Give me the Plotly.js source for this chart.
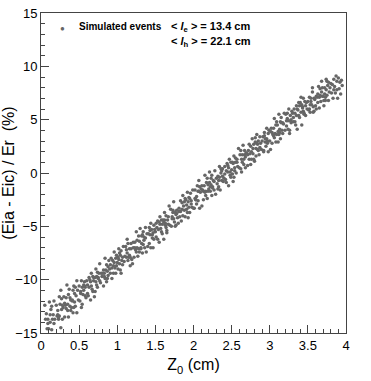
<!DOCTYPE html>
<html>
<head>
<meta charset="utf-8">
<script src="https://cdn.plot.ly/plotly-3.0.1.min.js"></script>
<style>
  html, body { margin: 0; padding: 0; background: #fff; }
  #plot { width: 371px; height: 381px; }
</style>
</head>
<body>
<div id="plot"></div>
<script>
// simulated events, read off the picture bin by bin (0.1 cm bins)
const z0 = [
  0.05,0.06,0.07,0.08,0.09,0.09,
  0.10,0.11,0.12,0.12,0.13,0.14,0.14,0.15,0.16,0.17,0.17,0.18,
  0.21,0.22,0.23,0.24,0.24,0.25,0.26,0.27,0.28,0.28,0.29,0.20,0.22,0.26,0.23,0.27,
  0.30,0.31,0.31,0.32,0.33,0.33,0.34,0.35,0.35,0.36,0.36,0.37,0.38,0.38,0.39,0.39,
  0.40,0.41,0.42,0.42,0.43,0.44,0.44,0.45,0.46,0.47,0.47,0.48,0.49,0.41,0.45,0.43,
  0.51,0.52,0.53,0.54,0.54,0.55,0.56,0.57,0.58,0.58,0.59,0.50,0.52,0.56,0.53,0.57,
  0.60,0.61,0.61,0.62,0.63,0.63,0.64,0.65,0.65,0.66,0.66,0.67,0.68,0.68,0.69,0.69,
  0.70,0.71,0.72,0.72,0.73,0.74,0.74,0.75,0.76,0.77,0.77,0.78,0.79,0.71,0.75,0.73,
  0.81,0.82,0.83,0.84,0.84,0.85,0.86,0.87,0.88,0.88,0.89,0.80,0.82,0.86,0.83,0.87,
  0.90,0.91,0.91,0.92,0.93,0.93,0.94,0.95,0.95,0.96,0.96,0.97,0.98,0.98,0.99,0.99,
  1.00,1.01,1.02,1.02,1.03,1.04,1.04,1.05,1.06,1.07,1.07,1.08,1.09,1.01,1.05,1.03,
  1.11,1.12,1.13,1.14,1.14,1.15,1.16,1.17,1.18,1.18,1.19,1.10,1.12,1.16,1.13,1.17,
  1.20,1.21,1.21,1.22,1.23,1.23,1.24,1.25,1.25,1.26,1.26,1.27,1.28,1.28,1.29,1.29,
  1.30,1.31,1.32,1.32,1.33,1.34,1.34,1.35,1.36,1.37,1.37,1.38,1.39,1.31,1.35,1.33,
  1.41,1.42,1.43,1.44,1.44,1.45,1.46,1.47,1.48,1.48,1.49,1.40,1.42,1.46,1.43,1.47,
  1.50,1.51,1.51,1.52,1.53,1.53,1.54,1.55,1.55,1.56,1.56,1.57,1.58,1.58,1.59,1.59,
  1.60,1.61,1.62,1.62,1.63,1.64,1.64,1.65,1.66,1.67,1.67,1.68,1.69,1.61,1.65,1.63,
  1.71,1.72,1.73,1.74,1.74,1.75,1.76,1.77,1.78,1.78,1.79,1.70,1.72,1.76,1.73,1.77,
  1.80,1.81,1.81,1.82,1.83,1.83,1.84,1.85,1.85,1.86,1.86,1.87,1.88,1.88,1.89,1.89,
  1.90,1.91,1.92,1.92,1.93,1.94,1.94,1.95,1.96,1.97,1.97,1.98,1.99,1.91,1.95,1.93,
  2.01,2.02,2.03,2.04,2.04,2.05,2.06,2.07,2.08,2.08,2.09,2.00,2.02,2.06,2.03,2.07,
  2.10,2.11,2.11,2.12,2.13,2.13,2.14,2.15,2.15,2.16,2.16,2.17,2.18,2.18,2.19,2.19,
  2.20,2.21,2.22,2.22,2.23,2.24,2.24,2.25,2.26,2.27,2.27,2.28,2.29,2.21,2.25,2.23,
  2.31,2.32,2.33,2.34,2.34,2.35,2.36,2.37,2.38,2.38,2.39,2.30,2.32,2.36,2.33,2.37,
  2.40,2.41,2.41,2.42,2.43,2.43,2.44,2.45,2.45,2.46,2.46,2.47,2.48,2.48,2.49,2.49,
  2.50,2.51,2.52,2.52,2.53,2.54,2.54,2.55,2.56,2.57,2.57,2.58,2.59,2.51,2.55,2.53,
  2.61,2.62,2.63,2.64,2.64,2.65,2.66,2.67,2.68,2.68,2.69,2.60,2.62,2.66,2.63,2.67,
  2.70,2.71,2.71,2.72,2.73,2.73,2.74,2.75,2.75,2.76,2.76,2.77,2.78,2.78,2.79,2.79,
  2.80,2.81,2.82,2.82,2.83,2.84,2.84,2.85,2.86,2.87,2.87,2.88,2.89,2.81,2.85,2.83,
  2.91,2.92,2.93,2.94,2.94,2.95,2.96,2.97,2.98,2.98,2.99,2.90,2.92,2.96,2.93,2.97,
  3.00,3.01,3.01,3.02,3.03,3.03,3.04,3.05,3.05,3.06,3.06,3.07,3.08,3.08,3.09,3.09,
  3.10,3.11,3.12,3.12,3.13,3.14,3.14,3.15,3.16,3.17,3.17,3.18,3.19,3.11,3.15,3.13,
  3.21,3.22,3.23,3.24,3.24,3.25,3.26,3.27,3.28,3.28,3.29,3.20,3.22,3.26,3.23,3.27,
  3.30,3.31,3.31,3.32,3.33,3.33,3.34,3.35,3.35,3.36,3.36,3.37,3.38,3.38,3.39,3.39,
  3.40,3.41,3.42,3.42,3.43,3.44,3.44,3.45,3.46,3.47,3.47,3.48,3.49,3.41,3.45,3.43,
  3.51,3.52,3.53,3.54,3.54,3.55,3.56,3.57,3.58,3.58,3.59,3.50,3.52,3.56,3.53,3.57,
  3.60,3.61,3.61,3.62,3.63,3.63,3.64,3.65,3.65,3.66,3.66,3.67,3.68,3.68,3.69,3.69,
  3.70,3.71,3.72,3.72,3.73,3.74,3.74,3.75,3.76,3.77,3.77,3.78,3.79,3.71,3.75,3.73,
  3.81,3.82,3.83,3.84,3.84,3.85,3.86,3.87,3.88,3.88,3.89,3.80,
  3.90,3.91,3.92,3.93,3.94,3.95
];

const dE = [
  -12.4,-13.7,-13.2,-14.6,-14.1,-13.7,
  -14.6,-12.1,-13.3,-14.0,-12.8,-14.7,-12.5,-13.7,-13.3,-14.1,-12.0,-13.7,
  -13.4,-12.9,-13.7,-11.6,-13.4,-12.3,-14.5,-11.8,-12.4,-13.7,-12.6,-12.4,-13.3,-11.0,-13.6,-12.8,
  -11.6,-12.2,-13.5,-12.4,-11.7,-12.7,-10.5,-12.9,-12.3,-11.4,-13.5,-10.9,-12.5,-11.7,-12.9,-11.9,
  -12.6,-12.0,-11.0,-13.1,-10.6,-12.1,-11.3,-12.5,-11.5,-10.1,-13.1,-11.0,-11.9,-11.9,-10.7,-12.6,
  -12.0,-11.1,-10.1,-12.3,-10.7,-11.4,-11.0,-10.2,-11.5,-10.7,-11.7,-10.6,-11.3,-10.5,-12.6,-10.6,
  -10.1,-11.3,-10.5,-11.5,-9.8,-10.7,-10.0,-11.9,-10.2,-9.4,-10.6,-10.9,-9.7,-11.1,-10.1,-9.8,
  -11.6,-9.8,-9.0,-10.2,-10.5,-9.3,-10.7,-9.8,-9.4,-10.1,-8.5,-10.3,-9.4,-11.1,-9.9,-9.7,
  -9.4,-9.1,-9.7,-8.0,-9.9,-9.1,-10.2,-9.2,-8.8,-9.6,-8.2,-9.7,-10.6,-8.6,-9.4,-9.9,
  -9.0,-8.6,-9.4,-8.0,-8.9,-9.9,-8.2,-8.7,-9.4,-7.4,-8.4,-8.9,-8.0,-9.4,-7.7,-8.7,
  -8.4,-9.0,-7.1,-8.1,-8.5,-7.7,-9.1,-7.3,-8.2,-7.9,-8.6,-6.9,-8.3,-7.9,-9.4,-7.5,
  -6.9,-7.9,-7.5,-8.2,-6.6,-7.9,-7.1,-8.7,-6.6,-7.1,-8.1,-7.8,-7.2,-7.7,-6.2,-7.9,
  -8.5,-6.5,-7.0,-7.9,-7.0,-6.5,-7.2,-5.5,-7.4,-7.0,-6.3,-7.8,-5.9,-7.1,-6.4,-7.4,
  -5.2,-7.1,-6.6,-5.9,-7.5,-5.5,-6.7,-6.0,-7.0,-6.1,-5.1,-7.4,-5.7,-7.0,-6.3,-5.8,
  -5.7,-6.6,-5.8,-4.7,-7.0,-5.3,-6.1,-5.6,-4.9,-6.2,-5.3,-6.9,-5.1,-5.8,-5.4,-7.0,
  -5.5,-4.7,-6.0,-5.1,-6.2,-4.5,-5.3,-4.6,-6.5,-4.8,-4.1,-5.2,-5.5,-4.4,-5.7,-4.8,
  -4.4,-6.2,-4.4,-3.7,-4.9,-5.1,-4.0,-5.4,-4.4,-4.1,-4.8,-3.1,-4.9,-4.6,-5.6,-4.7,
  -5.0,-4.1,-3.7,-4.3,-2.7,-4.6,-3.7,-4.9,-3.8,-3.5,-4.2,-3.4,-4.3,-5.0,-3.5,-3.9,
  -4.7,-3.6,-3.3,-4.1,-2.6,-3.6,-4.5,-2.8,-3.4,-4.0,-2.1,-3.1,-3.5,-2.7,-4.1,-2.4,
  -2.5,-3.0,-3.7,-1.8,-2.7,-3.2,-2.3,-3.7,-1.9,-2.9,-2.6,-3.2,-1.6,-3.4,-2.4,-4.2,
  -3.3,-1.6,-2.5,-2.2,-2.9,-1.2,-2.6,-1.7,-3.3,-1.3,-1.8,-3.3,-2.4,-1.7,-2.5,-0.7,
  -1.5,-3.1,-1.2,-1.6,-2.5,-1.7,-1.2,-1.8,-0.2,-2.1,-1.7,-0.9,-2.4,-0.5,-1.7,-1.1,
  -1.5,0.1,-1.7,-1.3,-0.5,-2.1,-0.2,-1.3,-0.7,-1.6,-0.8,0.2,-2.0,-0.9,-1.4,-1.1,
  -1.0,-0.3,-1.3,-0.4,0.6,-1.6,0.0,-0.7,-0.3,0.4,-0.8,-0.5,-1.5,0.4,-0.7,0.2,
  -0.5,-0.1,0.6,-0.6,0.2,-0.9,0.9,0.1,0.7,-1.2,0.5,1.3,0.1,-0.2,1.0,-0.4,
  0.3,1.0,-0.8,0.9,1.6,0.5,0.2,1.4,0.0,1.0,1.3,0.6,2.3,-0.1,1.0,-0.4,
  1.7,0.4,1.3,1.7,1.0,2.6,0.8,1.7,0.5,1.5,1.9,0.5,2.1,1.3,0.1,2.1,
  1.8,0.7,1.7,2.1,1.3,2.7,1.8,0.8,2.5,2.0,1.3,3.2,2.3,1.8,2.7,1.3,
  1.1,2.9,2.3,1.6,3.6,2.7,2.2,3.0,1.7,3.4,2.4,2.8,2.2,3.3,2.1,2.8,
  3.4,2.0,3.8,2.9,3.2,2.5,4.2,2.8,3.7,2.0,4.0,3.0,2.1,3.2,3.5,3.0,
  3.0,3.9,2.2,4.2,3.8,2.8,3.6,4.2,3.5,5.1,3.3,3.7,4.5,2.9,4.8,3.6,
  4.5,3.9,5.5,3.6,4.1,4.8,3.2,5.2,4.0,4.7,3.7,4.6,5.6,2.9,4.7,3.8,
  5.5,4.4,5.1,4.1,4.9,6.0,3.7,5.4,4.7,5.0,5.8,4.0,4.9,4.0,5.6,4.9,
  5.6,4.8,5.2,6.0,4.8,5.6,4.5,6.3,5.4,6.0,4.1,5.9,6.6,5.4,5.2,6.3,
  6.6,5.7,6.4,4.5,6.2,7.0,5.8,5.6,6.7,5.4,6.3,6.6,6.0,7.1,5.5,6.1,
  5.9,7.1,5.7,6.7,7.0,6.4,8.0,6.2,7.0,5.8,6.9,6.7,6.0,7.6,6.4,5.7,
  6.3,7.2,6.0,7.1,7.4,6.6,8.1,7.1,6.1,7.9,7.3,6.7,8.6,7.6,7.2,8.0,
  7.2,6.3,8.0,7.4,6.8,8.8,7.8,7.3,8.2,6.8,8.5,7.6,8.0,6.8,8.6,7.1,
  7.5,8.3,7.0,8.8,7.8,8.1,7.5,9.1,7.8,8.6,7.0,8.4,
  8.9,7.9,8.5,7.4,8.7,8.2
];

const xTicks = { first: 0, step: 0.5, minor: 0.1 };
const yTicks = { first: -15, step: 5, minor: 1 };

const axisCol = '#444';
const dotCol = '#666666';

const trace = {
  type: 'scatter',
  mode: 'markers',
  x: z0,
  y: dE,
  marker: { color: dotCol, size: 3.5 },
  hoverinfo: 'skip',
  showlegend: false
};

function px2x(px) { return (px - 41) / 305; }
function py2y(py) { return (333 - py) / 320; }

const layout = {
  width: 371,
  height: 381,
  margin: { l: 41, r: 25, t: 13, b: 48 },
  paper_bgcolor: '#fff',
  plot_bgcolor: '#fff',
  font: { family: '"Liberation Sans", Arial, sans-serif', size: 13, color: '#000' },
  showlegend: false,
  xaxis: {
    range: [0, 4],
    tick0: xTicks.first,
    dtick: xTicks.step,
    ticks: 'inside',
    ticklen: 8,
    tickcolor: axisCol,
    showline: true,
    linecolor: axisCol,
    linewidth: 1,
    mirror: true,
    showgrid: false,
    zeroline: false,
    minor: { dtick: xTicks.minor, ticks: 'inside', ticklen: 4, tickcolor: axisCol, showgrid: false },
    tickfont: { size: 13 },
    title: { text: 'Z<sub>0</sub> (cm)', font: { size: 16 }, standoff: 7 }
  },
  yaxis: {
    range: [-15, 15],
    tick0: yTicks.first,
    dtick: yTicks.step,
    ticks: 'inside',
    ticklen: 8,
    tickcolor: axisCol,
    showline: true,
    linecolor: axisCol,
    linewidth: 1,
    mirror: true,
    showgrid: false,
    zeroline: false,
    minor: { dtick: yTicks.minor, ticks: 'inside', ticklen: 4, tickcolor: axisCol, showgrid: false },
    tickfont: { size: 13 },
    title: { text: '(Eia - Eic) / Er \u00a0(%)', font: { size: 16 }, standoff: 4 }
  },
  annotations: [
    { xref: 'paper', yref: 'paper', x: px2x(62), y: py2y(28), text: '\u25CF',
      showarrow: false, xanchor: 'center', yanchor: 'middle', font: { size: 8, color: dotCol } },
    { xref: 'paper', yref: 'paper', x: px2x(77), y: py2y(27), text: '<b>Simulated events</b>',
      showarrow: false, xanchor: 'left', yanchor: 'middle', font: { size: 10 } },
    { xref: 'paper', yref: 'paper', x: px2x(169), y: py2y(27), text: '<b>&lt; <i>l</i><sub>e</sub> &gt; = 13.4 cm</b>',
      showarrow: false, xanchor: 'left', yanchor: 'middle', font: { size: 11 } },
    { xref: 'paper', yref: 'paper', x: px2x(169), y: py2y(42), text: '<b>&lt; <i>l</i><sub>h</sub> &gt; = 22.1 cm</b>',
      showarrow: false, xanchor: 'left', yanchor: 'middle', font: { size: 11 } }
  ]
};

Plotly.newPlot('plot', [trace], layout, { staticPlot: true, displayModeBar: false });
</script>
</body>
</html>
